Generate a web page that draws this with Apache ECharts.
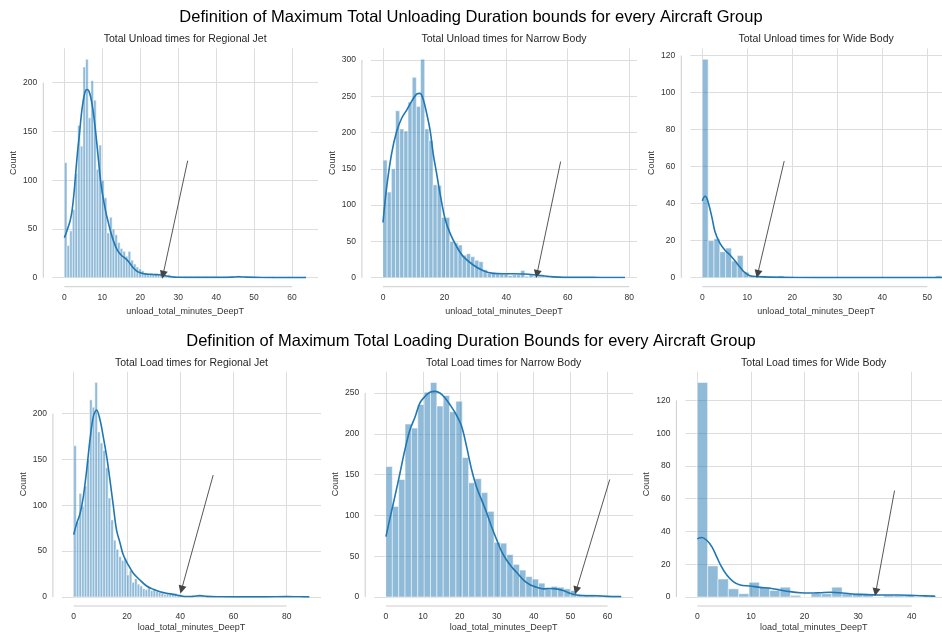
<!DOCTYPE html>
<html>
<head>
<meta charset="utf-8">
<script src="https://cdn.jsdelivr.net/npm/echarts@6/dist/echarts.min.js"></script>
<style>
  html, body { margin: 0; padding: 0; background: #ffffff; }
  #chart { width: 942px; height: 635px; }
</style>
</head>
<body>
<div id="chart"></div>
<script>
// ---------------- data ----------------
// Histogram counts per bin (bins start at 0, fixed width per panel)
const unloadRegionalCounts = [
  118, 33, 48, 70, 107, 156, 135, 216, 224, 164,
  202, 182, 111, 136, 100, 82, 46, 62, 50, 44,
  36, 30, 27, 22, 27, 18, 14, 11, 9, 7,
  5, 4, 4, 3, 4, 3, 5, 3, 2, 3,
  2, 1, 1, 1, 0, 1, 0, 1, 0, 0,
  1, 0, 0, 1, 0, 0, 1, 0, 0, 0,
  1, 0, 0, 0, 1, 2, 1, 0, 0, 0,
  0, 1, 0, 0, 0, 0, 0, 0, 1, 0,
  0, 0, 0, 0, 1, 0, 0, 0, 0, 0, 1
];
const unloadRegionalBinWidth = 0.6997;

const unloadNarrowCounts = [
  162, 118, 150, 230, 205, 202, 242, 276, 236, 301,
  205, 189, 128, 127, 83, 83, 50, 48, 45, 31,
  33, 29, 24, 22, 11, 6, 7, 5, 5, 5,
  3, 4, 4, 10, 2, 4, 2, 2, 1, 2,
  1, 1, 1, 0, 1, 0, 0, 1, 0, 0,
  0, 0, 1, 0, 0, 0, 0, 1
];
const unloadNarrowBinWidth = 1.355;

const unloadWideCounts = [
  118, 20, 21, 14, 16, 9, 12, 3, 1, 0,
  1, 0, 0, 1, 0, 0, 0, 0, 0, 0,
  0, 0, 0, 0, 0, 0, 0, 0, 0, 0,
  0, 0, 0, 0, 0, 0, 0, 0, 0, 0, 1
];
const unloadWideBinWidth = 1.296;

const loadRegionalCounts = [
  165, 82, 113, 99, 121, 150, 215, 207, 234, 180,
  168, 160, 141, 108, 84, 62, 52, 44, 40, 42,
  24, 29, 16, 20, 14, 12, 9, 8, 10, 7,
  8, 6, 5, 4, 3, 4, 3, 3, 4, 2,
  2, 1, 1, 1, 1, 0, 1, 1, 2, 1,
  1, 0, 0, 1, 0, 0, 0, 0, 0, 0,
  0, 0, 1, 0, 0, 0, 0, 0, 0, 0,
  0, 0, 0, 0, 0, 0, 0, 0, 1, 1,
  0, 0, 0, 0, 0, 0, 0, 0, 1
];
const loadRegionalBinWidth = 0.994;

const loadNarrowCounts = [
  160, 111, 144, 212, 207, 236, 251, 263, 234, 247,
  227, 240, 171, 140, 145, 128, 105, 67, 66, 52,
  40, 33, 25, 22, 17, 10, 13, 12, 10, 8,
  3, 3, 3, 2, 2, 1, 1
];
const loadNarrowBinWidth = 1.722;

const loadWideCounts = [
  131, 19, 11, 5, 2, 9, 6, 4, 6, 1,
  0, 2, 2, 6, 2, 2, 2, 0, 1, 1,
  1, 0, 1
];
const loadWideBinWidth = 1.93;

// Kernel density estimates, scaled to counts: [minutes, count]
const unloadRegionalKde = [
  [0, 41], [0.5, 46], [1, 52], [1.5, 58], [2, 68], [2.5, 85], [3, 108], [3.5, 130],
  [4, 148], [4.5, 168], [5, 182], [5.5, 191], [6, 193], [6.5, 191], [7, 184],
  [7.5, 173], [8, 158], [8.5, 140], [9, 120], [9.5, 101], [10, 87], [10.5, 76],
  [11, 66], [11.5, 58], [12, 50], [13, 37], [14, 28], [15, 23], [16, 20], [17, 16],
  [18, 11], [19, 7], [20, 5], [21, 4], [22, 3.6], [23, 3.4], [24, 3.2], [25, 3],
  [26, 2.5], [27, 1.7], [28, 1], [29, 0.6], [30, 0.4], [34, 0.3], [40, 0.3],
  [44, 0.6], [46, 1], [48, 0.6], [52, 0.2], [58, 0.1], [63.7, 0.1]
];
const unloadNarrowKde = [
  [0, 76], [1.2, 125], [2.8, 171], [4.4, 201], [6.1, 220], [7.7, 231], [9.3, 243],
  [10.9, 253], [12, 254], [13.1, 245], [14.2, 226], [15.3, 203], [16.3, 171],
  [17.4, 144], [18.7, 112], [20.1, 82], [21.8, 61], [23.9, 43], [26.1, 29],
  [29.3, 17.5], [32.6, 9.6], [35.8, 6], [39, 5.5], [42.3, 5.5], [45.6, 5],
  [48.8, 4], [52, 2.5], [55.3, 1.2], [58.6, 0.5], [63, 0.4], [68, 0.4],
  [73.7, 0.3], [78.6, 0.3]
];
const unloadWideKde = [
  [0, 41.5], [0.6, 44], [1.1, 42.4], [2.1, 33], [2.8, 25], [3.9, 18.7], [5, 15],
  [6.1, 12.4], [7.3, 9], [8.4, 5.6], [9.5, 2.7], [10.6, 1.1], [12.1, 0.6],
  [15, 0.3], [21, 0.1], [30, 0.05], [40, 0.05], [53.3, 0.05]
];
const loadRegionalKde = [
  [0, 68], [1.1, 80], [2.4, 91], [3.6, 109], [4.9, 139], [6.1, 171], [7.4, 197],
  [8.6, 204], [9.9, 193], [11.1, 175], [12.4, 153], [13.6, 128], [14.9, 99],
  [16.1, 73], [17.4, 59], [18.6, 46], [20.5, 35], [22.4, 26], [24.9, 18.5],
  [27.4, 12], [29.9, 8.4], [32.4, 5.8], [34.9, 4], [37.4, 2.9], [39.9, 1.5],
  [42.4, 0.5], [44.9, 0.7], [47.4, 1.5], [49.9, 0.7], [53.6, 0.2], [60, 0.1],
  [72, 0.1], [80, 0.4], [85, 0.2], [88.5, 0.1]
];
const loadNarrowKde = [
  [0, 74], [1.1, 97], [2.4, 123], [3.8, 152], [5.1, 180], [6.5, 205], [7.9, 221],
  [9.2, 238], [10.6, 246], [11.9, 251], [13.3, 252], [14.6, 250], [16, 244],
  [17.3, 236], [19.1, 223], [20.5, 209], [21.8, 185], [23.2, 156], [24.5, 135],
  [25.9, 119], [27.3, 103], [28.6, 86], [30, 70], [31.3, 56], [32.7, 45], [34, 37],
  [35.4, 30], [37.2, 21], [39, 15], [40.8, 12], [42.6, 10], [44.4, 10.5],
  [46.2, 10], [48, 8], [49.8, 4.5], [51.6, 2.5], [54.3, 1.6], [57, 1.6],
  [59.7, 0.8], [63.7, 0.4]
];
const loadWideKde = [
  [0, 35.5], [0.8, 36.3], [1.7, 34.8], [2.7, 30.8], [3.6, 24.7], [4.5, 18.5],
  [5.5, 13.4], [6.7, 9.4], [8, 7.3], [9.8, 6.7], [11.7, 5.9], [13.6, 5.3],
  [15.4, 4.3], [17.3, 3.3], [19.2, 2.6], [21, 2.4], [22.9, 2.6], [24.8, 2.9],
  [26.6, 2.6], [28.5, 2], [30.3, 1.6], [32.2, 1.4], [34.1, 1.2], [35.9, 1.2],
  [37.8, 1.2], [39.7, 1], [41.5, 0.8], [43.4, 0.6], [44.4, 0.5]
];

// Annotation arrows marking the chosen upper bound: [from, to] in data units
const unloadRegionalArrow = [[32.5, 120], [26, 3]];
const unloadNarrowArrow = [[57.7, 160], [50, 5]];
const unloadWideArrow = [[18.2, 63], [12.3, 2]];
const loadRegionalArrow = [[52.4, 133], [40.5, 8]];
const loadNarrowArrow = [[60.6, 144], [51.5, 8]];
const loadWideArrow = [[36.8, 65], [33.3, 3]];

// Tick labels
const ticks0to60by10 = [0, 10, 20, 30, 40, 50, 60];
const ticks0to80by20 = [0, 20, 40, 60, 80];
const ticks0to50by10 = [0, 10, 20, 30, 40, 50];
const ticks0to40by10 = [0, 10, 20, 30, 40];
const ticks0to200by50 = [0, 50, 100, 150, 200];
const ticks0to300by50 = [0, 50, 100, 150, 200, 250, 300];
const ticks0to250by50 = [0, 50, 100, 150, 200, 250];
const ticks0to120by20 = [0, 20, 40, 60, 80, 100, 120];

const mainTitles = [
  'Definition of Maximum Total Unloading Duration bounds for every Aircraft Group',
  'Definition of Maximum Total Loading Duration Bounds for every Aircraft Group'
];

// ---------------- layout ----------------
const FONT = '"Liberation Sans", Arial, Helvetica, sans-serif';
const GRID_COLOR = '#dddddd';
const SPINE_COLOR = '#cccccc';
const TEXT_COLOR = '#333333';
const SPINE_OFFSET = 9;

const panels = [
  { box: [52.3, 48.3, 265.7, 229.4], xRange: [-3.18, 66.85], xTicks: ticks0to60by10, yTicks: ticks0to200by50,
    counts: unloadRegionalCounts, binWidth: unloadRegionalBinWidth, kde: unloadRegionalKde, arrow: unloadRegionalArrow,
    title: 'Total Unload times for Regional Jet', xName: 'unload_total_minutes_DeepT', nameGap: 29 },
  { box: [370.9, 48.3, 266.1, 229.4], xRange: [-3.93, 82.5], xTicks: ticks0to80by20, yTicks: ticks0to300by50,
    counts: unloadNarrowCounts, binWidth: unloadNarrowBinWidth, kde: unloadNarrowKde, arrow: unloadNarrowArrow,
    title: 'Total Unload times for Narrow Body', xName: 'unload_total_minutes_DeepT', nameGap: 29 },
  { box: [690.3, 48.3, 251.7, 229.4], xRange: [-2.67, 53.27], xTicks: ticks0to50by10, yTicks: ticks0to120by20,
    counts: unloadWideCounts, binWidth: unloadWideBinWidth, kde: unloadWideKde, arrow: unloadWideArrow,
    title: 'Total Unload times for Wide Body', xName: 'unload_total_minutes_DeepT', nameGap: 29 },
  { box: [61.9, 371.7, 259.1, 225.3], xRange: [-4.43, 92.9], xTicks: ticks0to80by20, yTicks: ticks0to200by50,
    counts: loadRegionalCounts, binWidth: loadRegionalBinWidth, kde: loadRegionalKde, arrow: loadRegionalArrow,
    title: 'Total Load times for Regional Jet', xName: 'load_total_minutes_DeepT', nameGap: 26.5 },
  { box: [374.2, 371.7, 258.8, 225.3], xRange: [-3.19, 66.9], xTicks: ticks0to60by10, yTicks: ticks0to250by50,
    counts: loadNarrowCounts, binWidth: loadNarrowBinWidth, kde: loadNarrowKde, arrow: loadNarrowArrow,
    title: 'Total Load times for Narrow Body', xName: 'load_total_minutes_DeepT', nameGap: 26.5 },
  { box: [685.4, 371.7, 256.6, 225.3], xRange: [-2.22, 45.65], xTicks: ticks0to40by10, yTicks: ticks0to120by20,
    counts: loadWideCounts, binWidth: loadWideBinWidth, kde: loadWideKde, arrow: loadWideArrow,
    title: 'Total Load times for Wide Body', xName: 'load_total_minutes_DeepT', nameGap: 26.5 }
];

// Histogram bar: [binStart, binEnd, count] -> rectangle in axis coordinates
function renderBin(params, api) {
  const start = api.coord([api.value(0), api.value(2)]);
  const end = api.coord([api.value(1), 0]);
  return {
    type: 'rect',
    shape: { x: start[0], y: start[1], width: end[0] - start[0], height: end[1] - start[1] },
    style: { fill: 'rgba(31,119,180,0.5)', stroke: 'rgba(255,255,255,0.75)', lineWidth: 0.7 }
  };
}

const chart = echarts.init(document.getElementById('chart'), null, { renderer: 'canvas' });

const grid = [], xAxis = [], yAxis = [], series = [];
panels.forEach((p, i) => {
  grid.push({ left: p.box[0], top: p.box[1], width: p.box[2], height: p.box[3], containLabel: false });
  xAxis.push({
    gridIndex: i, type: 'value', min: p.xRange[0], max: p.xRange[1],
    axisLine: { show: false },
    axisTick: { show: false, customValues: p.xTicks },
    axisLabel: { customValues: p.xTicks, fontSize: 8.5, color: TEXT_COLOR, fontFamily: FONT, margin: 15 },
    splitLine: { show: true, lineStyle: { color: GRID_COLOR, width: 1 } },
    name: p.xName, nameLocation: 'middle', nameGap: p.nameGap,
    nameTextStyle: { fontSize: 9, color: TEXT_COLOR, fontFamily: FONT }
  });
  yAxis.push({
    gridIndex: i, type: 'value', min: 0, max: v => v.max * 1.05,
    axisLine: { show: false },
    axisTick: { show: false, customValues: p.yTicks },
    axisLabel: { customValues: p.yTicks, fontSize: 8.5, color: TEXT_COLOR, fontFamily: FONT, margin: 15 },
    splitLine: { show: true, lineStyle: { color: GRID_COLOR, width: 1 } },
    name: 'Count', nameLocation: 'middle', nameGap: 34, nameRotate: 90,
    nameTextStyle: { fontSize: 9, color: TEXT_COLOR, fontFamily: FONT }
  });
  series.push({
    type: 'custom', xAxisIndex: i, yAxisIndex: i, silent: true,
    renderItem: renderBin,
    encode: { x: [0, 1], y: 2 },
    data: p.counts.map((c, k) => [k * p.binWidth, (k + 1) * p.binWidth, c]),
    z: 2
  });
  series.push({
    type: 'line', xAxisIndex: i, yAxisIndex: i, silent: true,
    data: p.kde, smooth: 0.35, showSymbol: false, symbol: 'none',
    lineStyle: { color: '#1f77b4', width: 1.6 },
    z: 3,
    markLine: {
      silent: true, symbol: ['none', 'triangle'], symbolSize: 8,
      label: { show: false },
      lineStyle: { color: '#444444', width: 0.9, type: 'solid' },
      itemStyle: { color: '#444444' },
      emphasis: { disabled: true },
      data: [[{ coord: p.arrow[0] }, { coord: p.arrow[1] }]]
    }
  });
});

chart.setOption({
  backgroundColor: '#ffffff',
  animation: false,
  grid, xAxis, yAxis, series
});

// Trimmed, offset spines plus titles
const graphics = [];
graphics.push({ type: 'text', x: 471, y: 17, style: { text: mainTitles[0], font: '16.5px ' + FONT, fill: '#000', textAlign: 'center', textVerticalAlign: 'middle' } });
graphics.push({ type: 'text', x: 471, y: 341, style: { text: mainTitles[1], font: '16.5px ' + FONT, fill: '#000', textAlign: 'center', textVerticalAlign: 'middle' } });
panels.forEach((p, i) => {
  const ref = { gridIndex: i };
  const origin = chart.convertToPixel(ref, [0, 0]);
  const xEnd = chart.convertToPixel(ref, [p.xTicks[p.xTicks.length - 1], 0]);
  const yEnd = chart.convertToPixel(ref, [0, p.yTicks[p.yTicks.length - 1]]);
  const left = p.box[0] - SPINE_OFFSET;
  const bottom = origin[1] + SPINE_OFFSET;
  graphics.push({ type: 'line', shape: { x1: left, y1: origin[1], x2: left, y2: yEnd[1] }, style: { stroke: SPINE_COLOR, lineWidth: 1 }, silent: true });
  graphics.push({ type: 'line', shape: { x1: origin[0], y1: bottom, x2: xEnd[0], y2: bottom }, style: { stroke: SPINE_COLOR, lineWidth: 1 }, silent: true });
  graphics.push({ type: 'text', x: p.box[0] + p.box[2] / 2, y: p.box[1] - 9, style: { text: p.title, font: '10.5px ' + FONT, fill: '#262626', textAlign: 'center', textVerticalAlign: 'middle' } });
});
chart.setOption({ graphic: graphics });
</script>
</body>
</html>
